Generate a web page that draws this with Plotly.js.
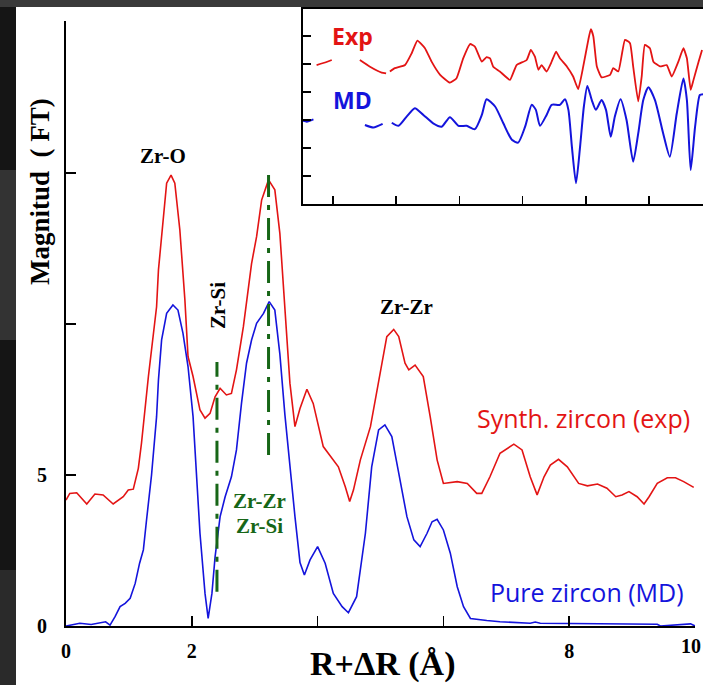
<!DOCTYPE html>
<html>
<head>
<meta charset="utf-8">
<script src="https://cdn.plot.ly/plotly-3.0.1.min.js"></script>
<style>html,body{margin:0;padding:0;background:#151515;}#chart{width:703px;height:685px;}</style>
</head>
<body>
<div id="chart"></div>
<script>
// Main FT curves: R+ΔR (Å) and magnitude
const expR = [0.00,0.06,0.17,0.33,0.46,0.59,0.75,0.91,0.99,1.07,1.15,1.20,1.31,1.44,1.47,1.54,1.60,1.67,1.73,1.81,1.89,1.94,2.02,2.13,2.21,2.29,2.37,2.45,2.55,2.63,2.71,2.82,2.95,3.03,3.11,3.22,3.32,3.40,3.48,3.56,3.64,3.72,3.83,3.93,4.09,4.33,4.44,4.51,4.57,4.68,4.84,5.00,5.10,5.21,5.29,5.39,5.45,5.55,5.68,5.79,5.90,6.00,6.22,6.38,6.53,6.61,6.74,6.90,7.12,7.25,7.38,7.49,7.60,7.70,7.83,7.97,8.15,8.29,8.45,8.60,8.74,8.84,8.95,9.08,9.19,9.27,9.40,9.56,9.69,9.82,9.98];
const expMag = [4.17,4.39,4.41,4.04,4.37,4.34,4.04,4.28,4.50,4.53,5.22,6.05,8.26,10.57,11.79,13.44,14.66,14.93,14.66,13.11,10.80,8.92,8.26,7.15,6.88,7.04,7.59,7.87,7.65,7.70,8.48,9.91,12.00,12.89,14.10,14.77,14.44,13.00,10.46,8.04,6.60,7.20,7.84,7.37,5.94,5.27,4.61,4.12,4.50,5.50,6.60,8.48,9.58,9.82,9.58,8.70,8.48,8.64,8.26,6.93,5.50,4.72,4.78,4.72,4.39,4.39,4.94,5.72,6.02,5.83,4.94,4.34,4.94,5.33,5.52,5.27,4.72,4.64,4.70,4.56,4.28,4.34,4.45,4.28,4.04,4.28,4.72,4.91,4.91,4.78,4.59];

const mdR = [0.00,0.22,0.40,0.63,0.70,0.78,0.86,0.94,1.02,1.10,1.17,1.23,1.28,1.36,1.44,1.47,1.52,1.60,1.70,1.78,1.86,1.94,2.02,2.08,2.13,2.21,2.26,2.32,2.37,2.45,2.53,2.63,2.71,2.79,2.87,2.95,3.03,3.14,3.23,3.32,3.40,3.48,3.56,3.64,3.72,3.79,3.88,4.00,4.12,4.25,4.39,4.49,4.62,4.76,4.86,4.97,5.07,5.18,5.29,5.42,5.53,5.63,5.74,5.82,5.90,6.00,6.11,6.22,6.32,6.43,6.69,6.90,7.38,7.46,7.54,9.40,9.45,9.93,10.00];
const mdMag = [0.00,0.09,0.05,0.14,0.03,0.31,0.64,0.75,0.92,1.41,2.08,2.52,3.50,5.00,6.93,8.15,9.47,10.35,10.63,10.46,9.69,8.59,6.93,4.72,3.07,1.08,0.25,1.08,2.29,3.62,4.28,4.94,5.83,7.37,8.70,9.47,10.02,10.35,10.74,10.46,9.00,7.00,5.27,3.62,2.10,1.69,2.19,2.63,2.08,1.08,0.64,0.44,0.97,3.07,5.27,6.49,6.66,6.27,5.06,3.62,2.85,2.63,3.07,3.45,3.53,3.18,2.41,1.30,0.64,0.25,0.18,0.14,0.09,0.13,0.09,0.06,0.00,0.07,0.00];

// Marker lines (dash-dot)
const markZrSiR = [2.40, 2.40];
const markZrSiY = [1.13, 8.74];
const markZrZrR = [3.22, 3.22];
const markZrZrY = [5.66, 15.2];

// Inset (k-space) curves, null = gap
const insetExpK = [1.48,1.75,1.96,null,2.85,3.17,3.54,3.68,null,3.80,3.96,4.28,4.49,4.67,4.91,5.12,5.39,5.70,5.91,6.12,6.34,6.49,6.71,6.86,6.97,7.07,7.28,7.60,7.81,8.13,8.26,8.39,8.50,8.60,8.76,8.92,9.06,9.18,9.40,9.60,9.76,9.92,10.08,10.16,10.24,10.35,10.50,10.77,10.87,11.03,11.24,11.40,11.50,11.66,11.77,11.87,12.03,12.14,12.35,12.56,12.72,12.93,13.09,13.20,13.32,13.41,13.57,13.68];
const insetExpV = [4.96,5.05,5.14,null,5.14,4.90,4.69,4.66,null,4.73,4.85,4.96,5.38,5.83,5.56,5.08,4.61,4.33,4.49,5.20,5.71,5.62,5.08,5.24,5.20,4.90,4.73,4.43,4.96,5.14,5.50,5.26,4.79,4.96,4.73,5.08,5.44,5.20,4.91,4.55,4.10,4.91,5.86,6.24,5.98,4.91,4.52,4.61,4.85,4.73,5.86,5.74,4.91,3.66,4.55,5.68,5.56,5.08,4.91,4.96,4.55,5.08,5.56,5.20,4.07,4.43,5.08,5.50];

const insetMdK = [1.05,1.17,1.38,null,3.01,3.28,3.57,null,3.86,4.07,4.33,4.59,4.86,5.17,5.44,5.70,5.97,6.23,6.49,6.71,6.86,7.13,7.39,7.66,7.86,8.08,8.29,8.42,8.55,8.76,8.92,9.18,9.34,9.45,9.56,9.69,9.82,9.94,10.05,10.19,10.32,10.50,10.64,10.79,10.92,11.10,11.29,11.50,11.66,11.82,11.98,12.19,12.45,12.66,12.88,13.09,13.20,13.32,13.46,13.61,13.71];
const insetMdV = [2.97,2.94,3.02,null,2.82,2.73,2.86,null,2.90,2.79,3.12,3.42,3.18,2.88,2.76,3.10,2.79,2.79,2.67,3.18,3.74,3.48,2.88,2.29,2.19,2.76,3.54,3.36,2.79,3.18,3.54,3.54,3.74,3.36,2.05,0.74,2.05,3.48,4.21,3.71,3.36,3.71,3.36,2.40,3.12,3.74,3.00,1.51,2.52,3.71,4.17,3.71,2.52,1.69,3.24,4.48,3.71,1.21,2.76,3.89,3.92];

// Axis ticks (the last label, "10", sits at the right edge and is drawn as an annotation)
const xTickVals = [0, 2, 4, 6, 8, 10];
const xTickText = ['0', '2', '', '', '8', ''];
const xLastLabel = '10';
const yTickVals = [0, 5, 10, 15, 20];
const yTickText = ['0', '5', '', '', ''];

const RED = '#e31414';
const BLUE = '#1414dc';
const GREEN = '#176617';
const SERIF = 'Liberation Serif, Times New Roman, serif';
const SANS = 'Open Sans, Noto Sans, sans-serif';

const traces = [
  {x: expR, y: expMag, type: 'scatter', mode: 'lines', line: {color: RED, width: 1.6}, xaxis: 'x', yaxis: 'y', hoverinfo: 'skip'},
  {x: mdR, y: mdMag, type: 'scatter', mode: 'lines', line: {color: BLUE, width: 1.6}, xaxis: 'x', yaxis: 'y', hoverinfo: 'skip'},
  {x: markZrSiR, y: markZrSiY, type: 'scatter', mode: 'lines', line: {color: GREEN, width: 3, dash: '22px,8px,5px,8px'}, xaxis: 'x', yaxis: 'y'},
  {x: markZrZrR, y: markZrZrY, type: 'scatter', mode: 'lines', line: {color: GREEN, width: 3, dash: '22px,8px,5px,8px'}, xaxis: 'x', yaxis: 'y'},
  {x: insetExpK, y: insetExpV, type: 'scatter', mode: 'lines', connectgaps: false, line: {color: RED, width: 1.8, shape: 'spline', smoothing: 0.4}, xaxis: 'x2', yaxis: 'y2'},
  {x: insetMdK, y: insetMdV, type: 'scatter', mode: 'lines', connectgaps: false, line: {color: BLUE, width: 2, shape: 'spline', smoothing: 0.6}, xaxis: 'x2', yaxis: 'y2'}
];

const W = 703, H = 685, L = 66, T = 9, B = 59;
const pw = W - L, ph = H - T - B;
const px = v => (v - L) / pw;
const py = v => (H - B - v) / ph;

function ann(o) { return Object.assign({showarrow: false, xanchor: 'center', yanchor: 'middle'}, o); }

const layout = {
  width: W, height: H,
  margin: {l: L, r: 0, t: T, b: B, pad: 0},
  paper_bgcolor: '#151515',
  plot_bgcolor: 'rgba(0,0,0,0)',
  showlegend: false,
  xaxis: {
    domain: [0, px(695)], range: [0, 10], showline: true, linecolor: '#000', linewidth: 2,
    ticks: 'inside', ticklen: 10, tickwidth: 1.5, tickcolor: '#000',
    tickvals: xTickVals, ticktext: xTickText, showgrid: false, zeroline: false,
    tickfont: {family: SERIF, size: 20, color: '#000', weight: 'bold'}, ticklabelstandoff: 6,
    anchor: 'y'
  },
  yaxis: {
    domain: [0, py(21)], range: [0, 20.03], showline: true, linecolor: '#000', linewidth: 2,
    ticks: 'inside', ticklen: 10, tickwidth: 1.5, tickcolor: '#000',
    tickvals: yTickVals, ticktext: yTickText, showgrid: false, zeroline: false,
    tickfont: {family: SERIF, size: 20, color: '#000', weight: 'bold'}, ticklabelstandoff: 13,
    anchor: 'x'
  },
  xaxis2: {
    domain: [px(303), 1], range: [1.05, 13.71], showline: true, mirror: true, linecolor: '#000', linewidth: 2,
    ticks: 'inside', ticklen: 8, tickwidth: 1.5, tickcolor: '#000', dtick: 2, tick0: 0,
    showticklabels: false, showgrid: false, zeroline: false, anchor: 'y2'
  },
  yaxis2: {
    domain: [py(204), 1], range: [0, 6.96], showline: true, linecolor: '#000', linewidth: 2,
    ticks: 'inside', ticklen: 8, tickwidth: 1.5, tickcolor: '#000', dtick: 1, tick0: 0,
    showticklabels: false, showgrid: false, zeroline: false, anchor: 'x2'
  },
  shapes: [
    {type: 'rect', xref: 'paper', yref: 'paper', x0: px(16), x1: px(703), y0: py(685), y1: py(7), fillcolor: '#fff', line: {width: 0}, layer: 'below'},
    {type: 'rect', xref: 'paper', yref: 'paper', x0: px(0), x1: px(703), y0: py(7), y1: py(0), fillcolor: '#3a3a3a', line: {width: 0}, layer: 'below'},
    {type: 'rect', xref: 'paper', yref: 'paper', x0: px(0), x1: px(16), y0: py(340), y1: py(170), fillcolor: '#333', line: {width: 0}, layer: 'below'},
    {type: 'rect', xref: 'paper', yref: 'paper', x0: px(0), x1: px(16), y0: py(685), y1: py(570), fillcolor: '#2a2a2a', line: {width: 0}, layer: 'below'},
    {type: 'rect', xref: 'paper', yref: 'paper', x0: px(303), x1: px(703), y0: py(204), y1: py(9), fillcolor: '#fff', line: {width: 0}, layer: 'below'}
  ],
  annotations: [
    ann({xref: 'x', yref: 'y', x: 1.54, y: 15.56, text: 'Zr-O', font: {family: SERIF, size: 21, color: '#000', weight: 'bold'}}),
    ann({xref: 'x', yref: 'y', x: 2.42, y: 10.6, text: 'Zr-Si', textangle: -90, font: {family: SERIF, size: 21, color: '#000', weight: 'bold'}}),
    ann({xref: 'x', yref: 'y', x: 5.42, y: 10.56, text: 'Zr-Zr', font: {family: SERIF, size: 21, color: '#000', weight: 'bold'}}),
    ann({xref: 'x', yref: 'y', x: 3.08, y: 4.14, text: 'Zr-Zr', font: {family: SERIF, size: 21, color: GREEN, weight: 'bold'}}),
    ann({xref: 'x', yref: 'y', x: 3.08, y: 3.31, text: 'Zr-Si', font: {family: SERIF, size: 21, color: GREEN, weight: 'bold'}}),
    ann({xref: 'x', yref: 'y', x: 8.23, y: 6.89, text: 'Synth. zircon (exp)', font: {family: SANS, size: 25, color: RED}}),
    ann({xref: 'x', yref: 'y', x: 8.29, y: 1.13, text: 'Pure zircon (MD)', font: {family: SANS, size: 25, color: BLUE}}),
    ann({xref: 'x2', yref: 'y2', x: 2.63, y: 6.0, text: 'Exp', font: {family: SANS, size: 23, color: RED, weight: 'bold'}}),
    ann({xref: 'x2', yref: 'y2', x: 2.63, y: 3.71, text: 'MD', font: {family: SANS, size: 23, color: BLUE, weight: 'bold'}}),
    ann({xref: 'paper', yref: 'paper', x: 1, y: py(646), xanchor: 'right', text: xLastLabel, font: {family: SERIF, size: 20, color: '#000', weight: 'bold'}}),
    ann({xref: 'paper', yref: 'paper', x: px(40), y: py(192), text: 'Magnitud  ( FT)', textangle: -90, font: {family: SERIF, size: 27, color: '#000', weight: 'bold'}}),
    ann({xref: 'paper', yref: 'paper', x: px(383), y: py(664), text: 'R+ΔR (Å)', font: {family: SERIF, size: 34, color: '#000', weight: 'bold'}})
  ]
};

Plotly.newPlot('chart', traces, layout, {staticPlot: true, displayModeBar: false});
</script>
</body>
</html>
